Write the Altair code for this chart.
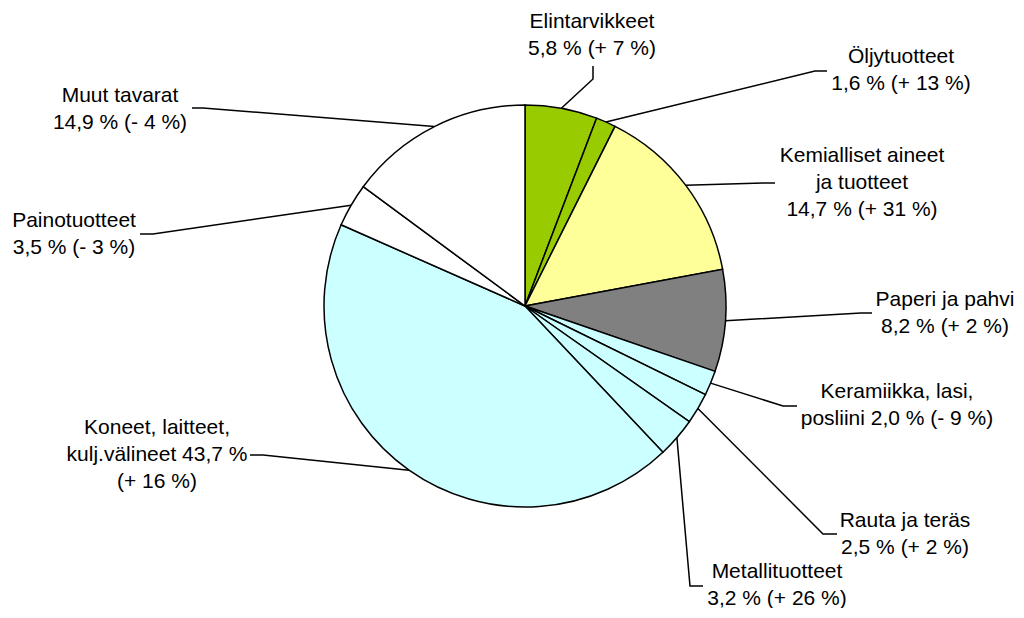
import math
import altair as alt
import pandas as pd

# ---- data ----
names = ["Elintarvikkeet", "Öljytuotteet", "Kemialliset aineet\nja tuotteet",
         "Paperi ja pahvi", "Keramiikka, lasi,\nposliini", "Rauta ja teräs",
         "Metallituotteet", "Koneet, laitteet,\nkulj.välineet", "Painotuotteet",
         "Muut tavarat"]
shares = [5.8, 1.6, 14.7, 8.2, 2.0, 2.5, 3.2, 43.7, 3.5, 14.9]
changes = ["+ 7", "+ 13", "+ 31", "+ 2", "- 9", "+ 2", "+ 26", "+ 16", "- 3", "- 4"]
sep_name = ["\n", "\n", "\n", "\n", " ", "\n", "\n", " ", "\n", "\n"]
sep_change = [" ", " ", " ", " ", " ", " ", " ", "\n", " ", " "]

# ---- style / layout ----
colors = ["#99CC00", "#99CC00", "#FFFF99", "#808080", "#CCFFFF",
          "#CCFFFF", "#CCFFFF", "#CCFFFF", "#FFFFFF", "#FFFFFF"]
CX, CY, R = 525, 306, 201
label_x = [592, 901, 862, 945, 897, 905, 777, 157, 74, 120]
label_y = [28, 63, 162, 306, 398, 527, 578, 434, 227, 102]
lead0 = [(593, 66), (827, 71), (775, 183), (872, 313), (797, 406),
         (837, 534), (703, 586), (250, 455), (140, 234), (192, 108)]
lead1 = [(593, 79), (815, 71), (763, 183), (861, 313), (783, 406),
         (823, 534), (690, 586), (263, 455), (153, 234), (203, 108)]

W, H = 1008, 600
xs = alt.Scale(domain=[8, 8 + W], nice=False, zero=False)
ys = alt.Scale(domain=[8, 8 + H], nice=False, zero=False, reverse=True)

def fmt(v):
    return f"{v:.1f}".replace(".", ",")

total = sum(shares)
rows, lines_rows, text_rows = [], [], []
cum = 0.0
for i, (n, v) in enumerate(zip(names, shares)):
    start, end = cum, cum + v
    cum = end
    rows.append({"i": i, "name": n, "start": start, "end": end, "cx": CX, "cy": CY})
    mid = (start + end) / 2 / total * 2 * math.pi
    ex, ey = CX + R * math.sin(mid), CY - R * math.cos(mid)
    for k, (px, py) in enumerate([lead0[i], lead1[i], (ex, ey)]):
        lines_rows.append({"i": i, "k": k, "x": px, "y": py})
    txt = n + sep_name[i] + fmt(v) + " %" + sep_change[i] + "(" + changes[i] + " %)"
    text_rows.append({"i": i, "x": label_x[i], "y": label_y[i], "t": txt})

pie_df = pd.DataFrame(rows)
line_df = pd.DataFrame(lines_rows)
text_df = pd.DataFrame(text_rows)

pie = alt.Chart(pie_df).mark_arc(radius=R, stroke="black", strokeWidth=1.5).encode(
    x=alt.X("cx:Q", scale=xs, axis=None),
    y=alt.Y("cy:Q", scale=ys, axis=None),
    theta=alt.Theta("start:Q", stack=None, scale=alt.Scale(domain=[0, total], range=[0, 2 * math.pi])),
    theta2="end:Q",
    color=alt.Color("name:N", scale=alt.Scale(domain=names, range=colors), legend=None),
)

leaders = alt.Chart(line_df).mark_line(color="black", strokeWidth=1.5).encode(
    x=alt.X("x:Q", scale=xs, axis=None),
    y=alt.Y("y:Q", scale=ys, axis=None),
    detail="i:N",
    order="k:Q",
)

labels = alt.Chart(text_df).mark_text(
    font="Liberation Sans", fontSize=21, lineHeight=27, align="center",
    baseline="alphabetic", lineBreak="\n", color="black"
).encode(
    x=alt.X("x:Q", scale=xs, axis=None),
    y=alt.Y("y:Q", scale=ys, axis=None),
    text="t:N",
)

chart = alt.layer(leaders, pie, labels).properties(
    width=W, height=H, padding=0, background="white",
    autosize=alt.AutoSizeParams(type="none")
).configure_view(stroke=None)

chart.save("out.html", embed_options={"renderer": "svg", "actions": False})
